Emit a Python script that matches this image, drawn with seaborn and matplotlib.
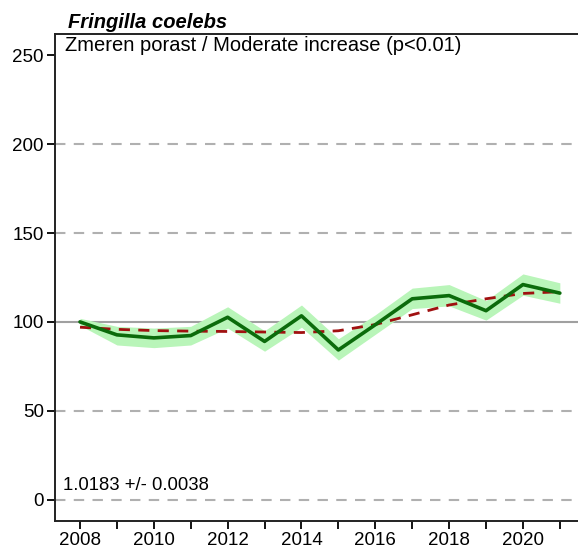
import numpy as np
import matplotlib.pyplot as plt
import pandas as pd
import seaborn as sns

# index values
years = [2008, 2009, 2010, 2011, 2012, 2013, 2014, 2015, 2016, 2017, 2018, 2019, 2020, 2021]
index = [100, 92.7, 91, 92.3, 102.6, 89, 103.4, 84.2, 98.4, 113, 114.8, 106.3, 121, 116.2]
lower = [98, 87, 85.5, 87, 96.5, 83.5, 97, 78.5, 93, 107.5, 109, 101, 115, 110.5]
upper = [102, 97.5, 96.5, 97.5, 108.5, 95, 109.5, 90.5, 104, 119, 121, 112, 127, 122]
trend = [97, 95.8, 95.1, 94.8, 94.6, 94.3, 94, 95, 98.5, 104, 109.5, 113, 116, 117]

title = "Fringilla coelebs"
subtitle = "Zmeren porast / Moderate increase (p<0.01)"
slope_text = "1.0183 +/- 0.0038"

df = pd.DataFrame({"year": years, "index": index, "lower": lower,
                   "upper": upper, "trend": trend})

sns.set_style("ticks")
plt.rcParams['font.family'] = ['Liberation Sans', 'DejaVu Sans']
plt.rcParams['text.color'] = 'black'
plt.rcParams['xtick.color'] = 'black'
plt.rcParams['ytick.color'] = 'black'

fig = plt.figure(figsize=(5.78, 5.50), dpi=100)
ax = fig.add_axes([0.095, 0.053, 0.91, 0.885])

for g in [0, 50, 150, 200]:
    ax.axhline(g, color='#b0b0b0', lw=1.5, ls=(0, (5, 4)), zorder=0)
ax.axhline(100, color='#a0a0a0', lw=1.5, zorder=1)

ax.fill_between(df["year"], df["lower"], df["upper"], color='#b9f5b9', lw=0, zorder=2)
sns.lineplot(data=df, x="year", y="index", color='#0b6b0b', lw=2.6, ax=ax, zorder=4)
sns.lineplot(data=df, x="year", y="trend", color='#a01010', lw=2.0, ax=ax,
             zorder=3, dashes=False, linestyle=(0, (4, 3)))

ax.set_xlim(2007.32, 2021.57)
ax.set_ylim(-12, 262)
ax.set_xticks(range(2008, 2022, 2))
ax.set_xticks(range(2008, 2022), minor=True)
ax.set_yticks([0, 50, 100, 150, 200, 250])
ax.set_xlabel("")
ax.set_ylabel("")
ax.tick_params(axis='both', labelsize=13.5, length=6, width=1.3, direction='out', pad=2)
ax.tick_params(axis='x', which='minor', length=6, width=1.3)

for s in ['left', 'bottom', 'top']:
    ax.spines[s].set_linewidth(1.4)
    ax.spines[s].set_color('#222222')
ax.spines['right'].set_visible(False)

ax.text(0.02, 0.997, subtitle, transform=ax.transAxes, ha='left', va='top', fontsize=14.5)
ax.text(0.015, 0.055, slope_text, transform=ax.transAxes, ha='left', va='bottom', fontsize=13.3)
fig.text(0.117, 0.942, title, ha='left', va='bottom', fontsize=14.5,
         fontweight='bold', fontstyle='italic')

fig.savefig("out.png", dpi=100)
